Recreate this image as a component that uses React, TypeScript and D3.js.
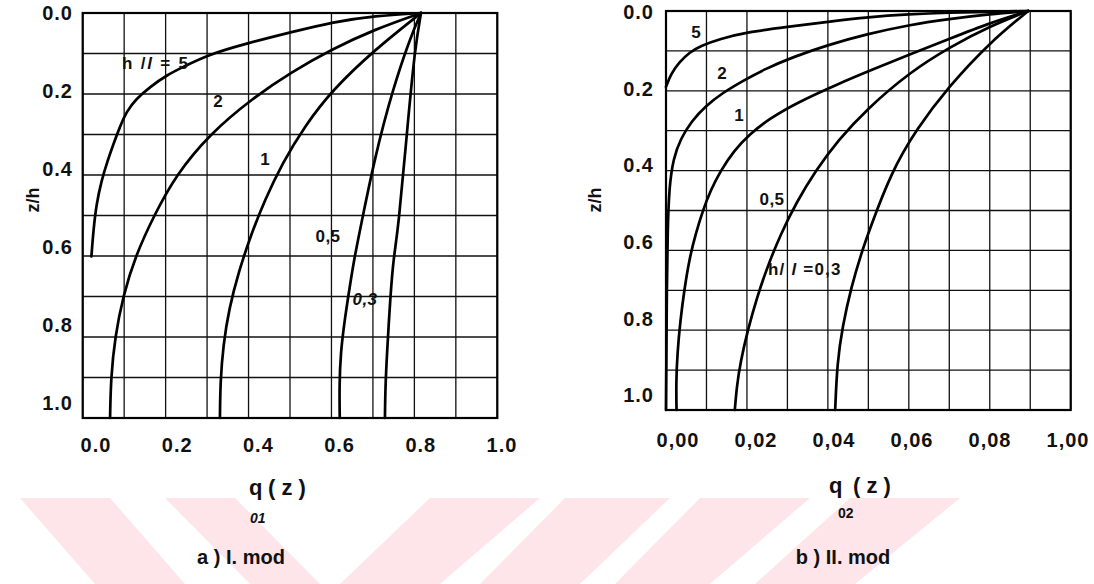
import React from "react";
import * as d3 from "d3";

// ---------- data (grid units: x 0..1 across the 10 grid columns, z 0..1 top to bottom) ----------
const gridSteps = d3.range(0, 11).map((i) => i / 10);

const xTickValues = [0, 0.2, 0.4, 0.6, 0.8, 1.0];
const leftTickLabels = ["0.0", "0.2", "0.4", "0.6", "0.8", "1.0"];
const rightTickLabels = ["0,00", "0,02", "0,04", "0,06", "0,08", "1,00"];
const yTickValues = [0, 0.2, 0.4, 0.6, 0.8, 1.0];
const yTickLabels = ["0.0", "0.2", "0.4", "0.6", "0.8", "1.0"];

// Panel a) I. mod  — [x, z]
const left5: [number, number][] = [[0.816,0],[0.705,0.007],[0.604,0.022],[0.505,0.047],[0.399,0.074],[0.300,0.104],[0.247,0.131],[0.203,0.153],[0.162,0.183],[0.128,0.213],[0.106,0.243],[0.090,0.280],[0.074,0.324],[0.060,0.365],[0.045,0.415],[0.033,0.473],[0.026,0.535],[0.021,0.601]];
const left2: [number, number][] = [[0.816,0],[0.705,0.04],[0.600,0.09],[0.505,0.145],[0.410,0.21],[0.305,0.30],[0.225,0.40],[0.172,0.50],[0.127,0.60],[0.097,0.70],[0.078,0.80],[0.068,0.90],[0.066,1.0]];
const left1: [number, number][] = [[0.816,0],[0.705,0.09],[0.602,0.19],[0.535,0.28],[0.482,0.37],[0.440,0.46],[0.405,0.55],[0.376,0.64],[0.353,0.73],[0.339,0.82],[0.332,0.91],[0.331,1.0]];
const left05: [number, number][] = [[0.816,0],[0.789,0.064],[0.748,0.188],[0.705,0.354],[0.669,0.535],[0.656,0.601],[0.644,0.676],[0.632,0.757],[0.622,0.839],[0.619,0.923],[0.620,1.0]];
const left03: [number, number][] = [[0.816,0],[0.801,0.089],[0.782,0.295],[0.761,0.535],[0.750,0.601],[0.742,0.700],[0.734,0.839],[0.730,0.923],[0.729,1.0]];

// Panel b) II. mod — [x, z]
const right5: [number, number][] = [[0.895,0],[0.8,0.002],[0.7,0.004],[0.6,0.008],[0.5,0.015],[0.4,0.027],[0.3,0.04],[0.2,0.053],[0.133,0.07],[0.084,0.088],[0.058,0.104],[0.033,0.128],[0.012,0.158],[0.0,0.19]];
const right2: [number, number][] = [[0.895,0],[0.80,0.008],[0.70,0.02],[0.60,0.035],[0.496,0.058],[0.40,0.085],[0.315,0.115],[0.245,0.145],[0.19,0.175],[0.14,0.205],[0.098,0.238],[0.064,0.275],[0.036,0.32],[0.018,0.37],[0.008,0.44],[0.004,0.55],[0.002,0.7],[0.001,0.88],[0,1.0]];
const right1: [number, number][] = [[0.895,0],[0.80,0.03],[0.70,0.07],[0.605,0.108],[0.512,0.146],[0.42,0.185],[0.325,0.229],[0.255,0.27],[0.205,0.31],[0.168,0.35],[0.135,0.40],[0.11,0.45],[0.091,0.50],[0.073,0.56],[0.058,0.62],[0.045,0.70],[0.035,0.78],[0.028,0.86],[0.025,0.93],[0.026,1.0]];
const right05: [number, number][] = [[0.895,0],[0.801,0.038],[0.702,0.09],[0.603,0.153],[0.496,0.246],[0.425,0.324],[0.37,0.40],[0.322,0.48],[0.283,0.56],[0.251,0.64],[0.224,0.72],[0.202,0.80],[0.184,0.88],[0.175,0.94],[0.170,1.0]];
const right03: [number, number][] = [[0.895,0],[0.801,0.078],[0.697,0.191],[0.619,0.296],[0.556,0.405],[0.503,0.548],[0.483,0.606],[0.458,0.691],[0.436,0.791],[0.423,0.882],[0.418,1.0]];

const leftSeries = [left5, left2, left1, left05, left03];
const rightSeries = [right5, right2, right1, right05, right03];

// watermark stripes (x at top edge left/right, x at bottom edge left/right)
const stripes: [number, number, number, number][] = [
  [20, 110, 95, 185],
  [165, 235, 250, 320],
  [430, 540, 340, 440],
  [565, 670, 480, 580],
  [700, 810, 615, 710],
  [850, 960, 755, 855],
];

const FONT = "'Liberation Sans', Arial, Helvetica, sans-serif";

type PanelProps = {
  x0: number; x1: number; y0: number; y1: number;
  series: [number, number][][];
  xLabelRange: [number, number];
  xLabels: string[];
  xLabelY: number;
  yLabelRange: [number, number];
  yLabelX: number;
  zhX: number;
};

function Panel(p: PanelProps) {
  const x = d3.scaleLinear().domain([0, 1]).range([p.x0, p.x1]);
  const y = d3.scaleLinear().domain([0, 1]).range([p.y0, p.y1]);
  const xl = d3.scaleLinear().domain([0, 1]).range(p.xLabelRange);
  const yl = d3.scaleLinear().domain([0, 1]).range(p.yLabelRange);
  const line = d3
    .line<[number, number]>()
    .x((d) => x(d[0]))
    .y((d) => y(d[1]))
    .curve(d3.curveBasis);
  return (
    <g>
      {gridSteps.map((g) => (
        <line key={"v" + g} x1={x(g)} x2={x(g)} y1={y(0)} y2={y(1)} stroke="#111" strokeWidth={1.3} />
      ))}
      {gridSteps.map((g) => (
        <line key={"h" + g} x1={x(0)} x2={x(1)} y1={y(g)} y2={y(g)} stroke="#111" strokeWidth={1.3} />
      ))}
      <rect x={x(0)} y={y(0)} width={x(1) - x(0)} height={y(1) - y(0)} fill="none" stroke="#000" strokeWidth={2.2} />
      {p.series.map((s, i) => (
        <path key={i} d={line(s) || ""} fill="none" stroke="#000" strokeWidth={2.7} strokeLinejoin="round" strokeLinecap="round" />
      ))}
      {xTickValues.map((v, i) => (
        <text key={"xl" + i} x={xl(v)} y={p.xLabelY} textAnchor="middle" fontFamily={FONT} fontWeight="bold" fontSize={20} letterSpacing={1} fill="#111">
          {p.xLabels[i]}
        </text>
      ))}
      {yTickValues.map((v, i) => (
        <text key={"yl" + i} x={p.yLabelX} y={yl(v)} dy="0.36em" textAnchor="end" fontFamily={FONT} fontWeight="bold" fontSize={20} letterSpacing={1} fill="#111">
          {yTickLabels[i]}
        </text>
      ))}
      <text transform={`translate(${p.zhX},200) rotate(-90)`} textAnchor="middle" dy="0.36em" fontFamily={FONT} fontWeight="bold" fontSize={18} fill="#111">
        z/h
      </text>
    </g>
  );
}

export default function App() {
  return (
    <div style={{ position: "absolute", left: 0, top: 0 }}>
      <svg width={1094} height={584} style={{ display: "block", background: "#fff" }}>
        {stripes.map((s, i) => (
          <polygon key={i} points={`${s[0]},498 ${s[1]},498 ${s[3]},584 ${s[2]},584`} fill="#fde5ea" />
        ))}
        <Panel x0={82.7} x1={497.3} y0={13} y1={418} series={leftSeries} xLabelRange={[96, 502]} xLabels={leftTickLabels} xLabelY={452} yLabelRange={[13, 403]} yLabelX={73} zhX={33} />
        <Panel x0={666} x1={1070.7} y0={11} y1={410} series={rightSeries} xLabelRange={[678, 1068]} xLabels={rightTickLabels} xLabelY={447} yLabelRange={[12, 395]} yLabelX={654} zhX={595} />

        {/* curve labels */}
        <g fontFamily={FONT} fontWeight="bold" fontSize={17} fill="#111">
          <text x={122} y={69} letterSpacing={1.8}>h /<tspan fontStyle="italic">l</tspan> = 5</text>
          <text x={218} y={107} textAnchor="middle">2</text>
          <text x={265} y={165} textAnchor="middle">1</text>
          <text x={328} y={242} textAnchor="middle" letterSpacing={0.5}>0,5</text>
          <text x={365} y={305} textAnchor="middle" fontStyle="italic" letterSpacing={0.5}>0,3</text>
          <text x={696} y={38} textAnchor="middle">5</text>
          <text x={722} y={79} textAnchor="middle">2</text>
          <text x={739} y={121} textAnchor="middle">1</text>
          <text x={772} y={205} textAnchor="middle" letterSpacing={0.5}>0,5</text>
          <text x={768} y={275} letterSpacing={1.2}>h/ <tspan fontStyle="italic">l</tspan> =0,3</text>
        </g>

        {/* axis titles */}
        <g fontFamily={FONT} fontWeight="bold" fill="#111">
          <text x={249} y={495} fontSize={22}>q</text>
          <text x={268} y={495} fontSize={22}>( z )</text>
          <text x={250} y={523} fontSize={14} fontStyle="italic">01</text>
          <text x={829} y={493} fontSize={22}>q</text>
          <text x={853} y={493} fontSize={22}>( z )</text>
          <text x={838} y={518} fontSize={14}>02</text>
          <text x={241} y={564} fontSize={20} textAnchor="middle">a )  I. mod</text>
          <text x={843} y={564} fontSize={20} textAnchor="middle">b ) II. mod</text>
        </g>
      </svg>
    </div>
  );
}
